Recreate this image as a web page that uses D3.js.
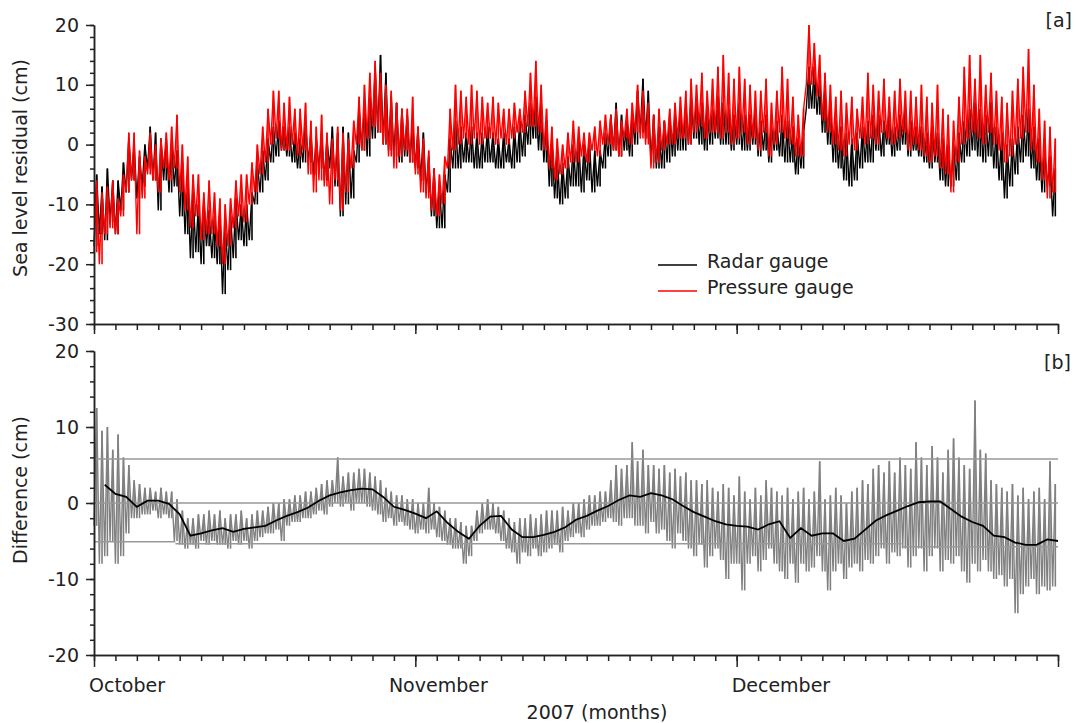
<!DOCTYPE html>
<html>
<head>
<meta charset="utf-8">
<script src="https://cdn.jsdelivr.net/npm/d3@7"></script>
<style>
  body { margin: 0; background: #fff; }
  text { font-family: "DejaVu Sans", Verdana, sans-serif; font-size: 19px; fill: #222; }
  .axis path, .axis line { stroke: #222; stroke-width: 1.5; }
</style>
</head>
<body>
<svg id="chart" width="1076" height="723"></svg>
<script>
// days since 1 Oct 2007; raw series are read as [low, high] pairs per half day
let binDays = 0.5

let radarEnv = [
  -17,-5, -15,-7,  -16,-4, -13,-6,  -15,-6, -11,-3,  -8,1, -6,0,  -9,-2, -7,0,
  -4,3, -6,2,  -11,1, -6,1,  -8,0, -7,-1,  -12,-3, -15,-6,  -19,-8, -18,-10,
  -20,-9, -17,-11,  -19,-12, -20,-11,  -25,-13, -21,-12,  -19,-9, -16,-10,  -17,-10, -16,-8,
  -10,-3, -8,-1,  -6,1, -3,3,  -2,4, -1,3,  -2,3, -3,2,  -4,1, -3,4,
  -3,2, -5,1,  -4,2, -6,1,  -4,3, -7,2,  -12,3, -10,2,  -9,-1, -3,6,
  -1,7, -2,8,  1,13, 2,15,  0,12, -1,8,  -2,7, -3,6,  -2,5, -3,4,
  -4,3, -6,2,  -8,-2, -12,-4,  -14,-7, -14,-5,  -8,1, -4,4,  -4,3, -3,2,
  -3,3, -4,2,  -4,2, -3,3,  -3,2, -4,1,  -4,2, -3,1,  -4,3, -3,4,
  -2,5, 0,7,  1,8, -1,7,  -3,4, -7,1,  -9,-2, -10,-3,  -9,-2, -7,0,
  -7,1, -8,0,  -6,1, -8,-1,  -7,-1, -4,2,  -2,5, -1,7,  -2,5, -1,4,
  -2,5, 0,9,  2,11, 1,9,  -3,5, -4,3,  -4,4, -3,5,  -2,5, -1,6,
  -1,7, 0,8,  1,8, 0,7,  -1,6, 0,6,  1,8, 0,7,  0,6, -1,5,
  0,7, -1,5,  -1,5, 0,6,  -2,4, -1,5,  -3,3, -1,4,  -2,5, -3,4,
  -3,3, -5,1,  -4,2, 6,13,  6,13, 5,11,  2,9, 0,7,  -3,4, -4,3,
  -6,2, -7,1,  -6,2, -4,3,  -3,4, -3,5,  -1,5, -2,4,  0,5, -2,3,
  -1,5, 0,6,  -2,4, -1,3,  -2,3, -3,2,  -4,3, -3,2,  -6,1, -7,0,
  -7,0, -6,2,  -3,4, -2,6,  -1,7, -2,6,  -3,5, -2,7,  -4,3, -6,2,
  -9,0, -7,1,  -5,3, -3,5,  -2,6, -4,3,  -6,1, -8,-1,  -7,-2, -12,-4
]

let pressureEnv = [
  -18,-6, -20,-8,  -15,-7, -14,-6,  -15,-9, -12,-5,  -8,2, -6,2,  -15,-1, -9,-2,
  -5,2, -6,0,  -8,1, -4,2,  -6,3, -4,5,  -8,0, -11,-2,  -14,-5, -12,-5,
  -16,-8, -15,-6,  -15,-8, -17,-9,  -20,-10, -17,-9,  -14,-6, -12,-5,  -13,-5, -10,-3,
  -8,0, -5,3,  -3,6, 0,9,  1,9, -1,7,  -1,8, 0,6,  -2,6, -1,7,
  -5,4, -8,3,  -6,5, -7,2,  -10,1, -6,3,  -11,2, -8,1,  -4,4, 0,8,
  -1,10, 1,12,  3,14, 2,12,  0,10, -2,9,  -4,7, -2,6,  -1,6, -3,8,
  -5,3, -8,1,  -9,-1, -11,-4,  -12,-5, -10,-2,  -4,6, -1,10,  0,9, 1,8,
  0,10, 1,9,  0,8, 1,7,  1,8, 0,7,  1,6, 0,6,  1,7, 2,6,
  2,9, 3,12,  3,14, 2,10,  -1,6, -4,3,  -6,1, -5,0,  -4,2, -3,4,
  -3,3, -2,2,  -3,2, -1,3,  -2,4, 0,5,  0,5, -1,6,  -2,4, 1,6,
  0,7, 2,10,  1,9, 0,7,  -4,5, -3,6,  -1,4, 0,6,  0,7, 1,8,
  1,9, 0,11,  2,10, 3,12,  1,9, 2,11,  2,13, 1,15,  2,12, 0,11,
  1,13, 2,11,  0,10, 1,9,  -1,9, 2,11,  -2,7, 0,9,  2,13, 1,11,
  0,8, -2,5,  -2,6, 10,20,  10,17, 8,15,  4,12, 2,10,  0,8, -1,9,
  -2,7, 0,8,  -1,6, 1,8,  0,12, 1,10,  0,9, 2,11,  1,8, 0,9,
  1,11, 2,9,  -1,9, 0,8,  -1,10, -2,8,  -3,7, -2,10,  -4,6, -5,5,
  -8,4, -3,8,  0,13, 1,15,  2,11, 1,15,  0,10, 2,12,  0,9, -1,8,
  -3,7, -2,9,  0,11, 1,13,  2,16, -1,10,  -3,6, -6,4,  -9,3, -8,1
]

let diffEnv = [
  -3,12.5, -8,9.5,  -7,10, -5,7,  -8,9, -7,6,  -4,5, -2,3,  -2,2.5, -1.5,2,
  -1.5,2, -1,1.5,  -2,2, -1.5,1.5,  -2,1.5, -5,0.5,  -5.5,-1, -6,-2,  -5.5,-2, -6,-1.5,
  -5,-1.5, -5.5,-1,  -5,-1.5, -5.5,-1,  -5.5,-2, -6,-1.5,  -5,-1.5, -5.5,-1,  -5,-2, -6,-1.5,
  -5,-1, -4.5,-1,  -4,-0.5, -4,0,  -3.5,0, -5,0.5,  -3,0.5, -2.5,1,  -2.5,1, -2,1.5,
  -2,1.5, -1.5,2,  -1,2.5, -1.5,3,  -0.5,3, 0,6,  -0.5,3.5, 0,4,  -1,4, 0,4.5,
  0,4.5, -0.5,4,  -1,3.5, -1.5,3,  -2.5,2, -2,1.5,  -3,1, -2.5,1,  -3,0.5, -3.5,0.5,
  -4,0, -3.5,0,  -4,2, -3.5,0,  -4.5,-0.5, -5,-1,  -5.5,-2, -6,-2,  -6,-2.5, -8,-3,
  -7,-3, -5,-1,  -4,0, -3.5,0.5,  -3.5,0, -4,-0.5,  -5,-1, -6,-2,  -6.5,-2.5, -8,-2,
  -6.5,-2, -7,-1.5,  -6,-2, -7,-1.5,  -6.5,-1, -6,-1,  -5.5,-1, -6.5,-0.5,  -5,-1, -4.5,0,
  -4,0, -4.5,0.5,  -3.5,1, -3,1,  -3,1.5, -2.5,1.5,  -2,3, -2.5,5,  -3,4.5, -2,5,
  -2,8, -3,5.5,  -3,7, -4,5,  -2.5,5, -4,4.5,  -3.5,5, -5,4,  -6,4.5, -4,3.5,
  -5,4, -6,3,  -7,3, -5.5,2.5,  -8.5,3, -7,2,  -6,1.5, -7.5,2.5,  -10,2, -8,1,
  -8,3.5, -11.5,1.5,  -8,0.5, -7,2,  -9,1, -7.5,3,  -6,2, -8,1.5,  -9,1, -10,2,
  -8,0.5, -10.5,1.5,  -8,2, -9,0.5,  -8.5,1.5, -7,5.5,  -9,0.5, -11.5,1,  -9,2, -8,1,
  -10,0, -8.5,1.5,  -8,2, -9,3,  -7.5,2.5, -8,4.5,  -7,5, -6,4,  -8,5.5, -6.5,4,
  -7,6, -6,5,  -8.5,4.5, -7,8,  -6,6, -9,5,  -7,7.5, -6,6,  -9,4, -7.5,7,
  -8,8.5, -7,6,  -9,5, -10.5,4.5,  -8,13.5, -9,7,  -7.5,6.5, -9,3,  -10,2.5, -9.5,2,
  -11,1.5, -10,2.5,  -14.5,1, -12,2,  -11,0.5, -10,1.5,  -12,2, -11,0.5,  -11.5,5.5, -11,2.5
]

// smoothed difference, one value per day from day 1
let smoothStart = 1
let diffSmooth = [
  2.4, 1.2, 0.8, -0.5, 0.3, 0.3, -0.1, -1.5, -4.3, -4.0,
  -3.6, -3.3, -3.8, -3.4, -3.2, -3.0, -2.3, -1.7, -1.2, -0.6,
  0.3, 1.0, 1.4, 1.7, 1.9, 1.8, 0.8, -0.5, -0.9, -1.4,
  -2.0, -1.1, -2.6, -3.8, -4.7, -3.0, -1.8, -1.7, -3.5, -4.5,
  -4.5, -4.2, -3.8, -3.2, -2.2, -1.7, -1.0, -0.4, 0.4, 1.0,
  0.8, 1.3, 1.0, 0.5, -0.4, -1.2, -1.8, -2.4, -2.8, -3.0,
  -3.1, -3.5, -2.8, -2.4, -4.6, -3.3, -4.3, -4.0, -4.0, -5.0,
  -4.7, -3.5, -2.3, -1.6, -1.0, -0.4, 0.1, 0.2, 0.2, -0.8,
  -1.8, -2.5, -3.0, -4.3, -4.5, -5.2, -5.5, -5.5, -4.8, -5.0
]

// reference lines in panel b
let upperLimit = 5.8
let lowerStarts = [0, 7.6, 75.4]
let lowerEnds = [7.6, 75.4, 90]
let lowerLimits = [-5.1, -5.35, -5.75]

let monthNames = ["October", "November", "December"]
let monthLabelDays = [0, 28, 60]
let monthTickDays = [0, 30, 60, 90]

let svg = d3.select("#chart")

let x = d3.scaleLinear().domain([0, 90]).range([94, 1058])
let yTop = d3.scaleLinear().domain([-30, 20]).range([324, 25])
let yBot = d3.scaleLinear().domain([-20, 20]).range([655, 351])

// zigzag through the low/high of every bin
function envelope(arr) {
  let pts = []
  for (let k = 0; k < arr.length / 2; k++) {
    pts.push([k * binDays, arr[2 * k]])
    pts.push([k * binDays + binDays / 2, arr[2 * k + 1]])
  }
  return pts
}

function bins(arr) {
  return d3.range(arr.length / 2).map(k => ({
    t: k * binDays + binDays / 2, lo: arr[2 * k], hi: arr[2 * k + 1]
  }))
}

function drawSeries(arr, y, colour) {
  let line = d3.line().x(d => x(d[0])).y(d => y(d[1]))
  let g = svg.append("g")
  g.append("path")
    .attr("d", line(envelope(arr)))
    .attr("fill", "none").attr("stroke", colour).attr("stroke-width", 1.4)
  g.selectAll("line")
    .data(bins(arr)).enter()
    .append("line")
    .attr("x1", d => x(d.t)).attr("x2", d => x(d.t))
    .attr("y1", d => y(d.lo)).attr("y2", d => y(d.hi))
    .attr("stroke", colour).attr("stroke-width", 1.6)
}

function yAxis(y, majors, minors) {
  svg.append("g").attr("class", "axis")
    .attr("transform", "translate(94,0)")
    .call(d3.axisLeft(y).tickValues(minors).tickSize(4).tickFormat("").tickSizeOuter(0))
  svg.append("g").attr("class", "axis")
    .attr("transform", "translate(94,0)")
    .call(d3.axisLeft(y).tickValues(majors).tickSize(8).tickPadding(7)
      .tickFormat(d => String(d)).tickSizeOuter(0))
}

function xAxis(yPos, majorLen) {
  svg.append("g").attr("class", "axis")
    .attr("transform", `translate(0,${yPos})`)
    .call(d3.axisBottom(x).tickValues(d3.range(0, 91, 2)).tickSize(6).tickFormat("").tickSizeOuter(0))
  svg.append("g").attr("class", "axis")
    .attr("transform", `translate(0,${yPos})`)
    .call(d3.axisBottom(x).tickValues(monthTickDays).tickSize(majorLen).tickFormat("").tickSizeOuter(0))
}

// panel a
drawSeries(radarEnv, yTop, "#000")
drawSeries(pressureEnv, yTop, "#ff0000")

yAxis(yTop, d3.range(-30, 21, 10), d3.range(-30, 21, 2))
xAxis(324, 10)

svg.append("text").attr("x", 1072).attr("y", 27).attr("text-anchor", "end").text("[a]")

// legend
let legendItems = [["Radar gauge", "#000"], ["Pressure gauge", "#ff0000"]]
legendItems.forEach((item, i) => {
  svg.append("line")
    .attr("x1", 658).attr("x2", 697)
    .attr("y1", 265 + i * 26).attr("y2", 265 + i * 26)
    .attr("stroke", item[1]).attr("stroke-width", 1.5)
  svg.append("text").attr("x", 707).attr("y", 268 + i * 26).text(item[0])
})

// panel b
drawSeries(diffEnv, yBot, "#808080")

svg.append("line")
  .attr("x1", x(0)).attr("x2", x(90))
  .attr("y1", yBot(upperLimit)).attr("y2", yBot(upperLimit))
  .attr("stroke", "#999").attr("stroke-width", 1.5)
svg.append("line")
  .attr("x1", x(0)).attr("x2", x(90))
  .attr("y1", yBot(0)).attr("y2", yBot(0))
  .attr("stroke", "#999").attr("stroke-width", 1.5)
svg.selectAll(".lower").data(lowerLimits).enter()
  .append("line").attr("class", "lower")
  .attr("x1", (d, i) => x(lowerStarts[i])).attr("x2", (d, i) => x(lowerEnds[i]))
  .attr("y1", d => yBot(d)).attr("y2", d => yBot(d))
  .attr("stroke", "#999").attr("stroke-width", 1.5)

svg.append("path")
  .attr("d", d3.line().x(d => x(d[0])).y(d => yBot(d[1]))(diffSmooth.map((v, i) => [smoothStart + i, v])))
  .attr("fill", "none").attr("stroke", "#000").attr("stroke-width", 1.8)

yAxis(yBot, d3.range(-20, 21, 10), d3.range(-20, 21, 2))
xAxis(655, 12)

svg.append("text").attr("x", 1071).attr("y", 369).attr("text-anchor", "end").text("[b]")

svg.selectAll(".month").data(monthNames).enter()
  .append("text").attr("class", "month")
  .attr("x", (d, i) => x(monthLabelDays[i]) - 5)
  .attr("y", 692)
  .text(d => d)

// axis titles
svg.append("text")
  .attr("transform", "translate(27,168) rotate(-90)")
  .attr("text-anchor", "middle")
  .text("Sea level residual (cm)")
svg.append("text")
  .attr("transform", "translate(27,490) rotate(-90)")
  .attr("text-anchor", "middle")
  .text("Difference (cm)")
svg.append("text")
  .attr("x", 597).attr("y", 719)
  .attr("text-anchor", "middle")
  .text("2007 (months)")
</script>
</body>
</html>
